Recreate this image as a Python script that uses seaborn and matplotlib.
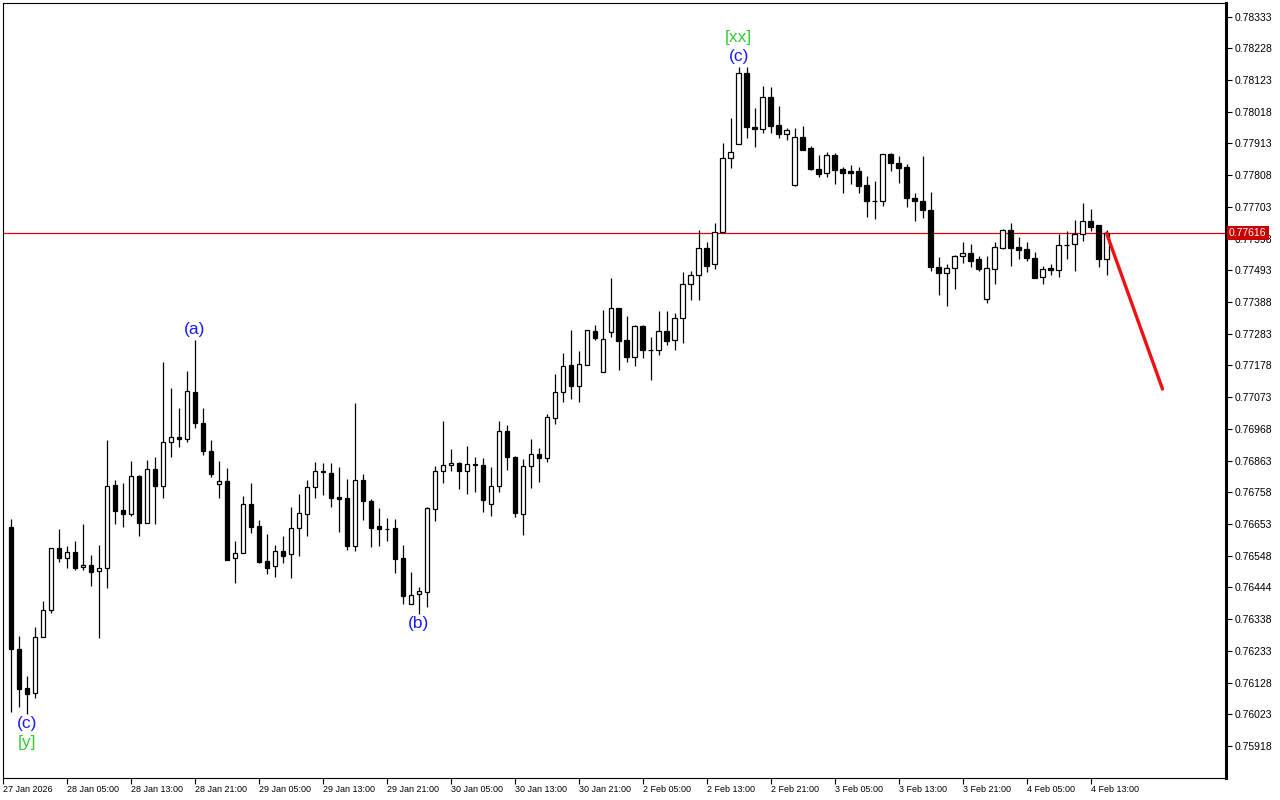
import numpy as np
import pandas as pd
import matplotlib
matplotlib.use("Agg")
import matplotlib.pyplot as plt
import seaborn as sns

# ---------------- data (hourly candles) ----------------
opens = [0.76643, 0.76240, 0.76110, 0.76094, 0.76279, 0.76369, 0.76574, 0.76541, 0.76561, 0.76511,
         0.76518, 0.76498, 0.76508, 0.76783, 0.76700, 0.76686, 0.76812, 0.76657, 0.76835, 0.76779,
         0.76925, 0.76941, 0.76935, 0.77090, 0.76988, 0.76895, 0.76786, 0.76796, 0.76541, 0.76557,
         0.76720, 0.76647, 0.76531, 0.76514, 0.76564, 0.76554, 0.76640, 0.76686, 0.76776, 0.76829,
         0.76822, 0.76742, 0.76739, 0.76581, 0.76799, 0.76730, 0.76647, 0.76637, 0.76640, 0.76541,
         0.76389, 0.76422, 0.76428, 0.76703, 0.76829, 0.76849, 0.76855, 0.76829, 0.76852, 0.76849,
         0.76720, 0.76779, 0.76961, 0.76875, 0.76686, 0.76845, 0.76885, 0.76872, 0.77005, 0.77090,
         0.77180, 0.77110, 0.77180, 0.77292, 0.77157, 0.77289, 0.77369, 0.77263, 0.77206, 0.77309,
         0.77229, 0.77229, 0.77292, 0.77263, 0.77335, 0.77448, 0.77478, 0.77567, 0.77514, 0.77620,
         0.77865, 0.77912, 0.78147, 0.77968, 0.77961, 0.78067, 0.77974, 0.77945, 0.77776, 0.77935,
         0.77898, 0.77829, 0.77816, 0.77875, 0.77829, 0.77822, 0.77822, 0.77776, 0.77723, 0.77723,
         0.77878, 0.77849, 0.77835, 0.77733, 0.77723, 0.77693, 0.77504, 0.77484, 0.77501, 0.77541,
         0.77551, 0.77531, 0.77398, 0.77498, 0.77567, 0.77627, 0.77571, 0.77564, 0.77534, 0.77471,
         0.77501, 0.77494, 0.77577, 0.77580, 0.77614, 0.77657, 0.77643, 0.77531]
highs = [0.76670, 0.76283, 0.76150, 0.76312, 0.76398, 0.76574, 0.76637, 0.76581, 0.76597, 0.76653,
         0.76551, 0.76584, 0.76932, 0.76799, 0.76789, 0.76862, 0.76816, 0.76865, 0.76875, 0.77190,
         0.77104, 0.77037, 0.77160, 0.77263, 0.77037, 0.76932, 0.76862, 0.76839, 0.76597, 0.76746,
         0.76789, 0.76667, 0.76620, 0.76584, 0.76614, 0.76710, 0.76753, 0.76799, 0.76859, 0.76855,
         0.76855, 0.76842, 0.76802, 0.77054, 0.76819, 0.76736, 0.76706, 0.76673, 0.76670, 0.76584,
         0.76494, 0.76445, 0.76710, 0.76845, 0.76994, 0.76902, 0.76859, 0.76912, 0.76875, 0.76872,
         0.76842, 0.76994, 0.76981, 0.76878, 0.76869, 0.76935, 0.76905, 0.77018, 0.77150, 0.77220,
         0.77296, 0.77226, 0.77296, 0.77312, 0.77362, 0.77468, 0.77369, 0.77342, 0.77312, 0.77312,
         0.77272, 0.77359, 0.77359, 0.77352, 0.77488, 0.77491, 0.77627, 0.77587, 0.77650, 0.77915,
         0.77998, 0.78167, 0.78167, 0.78031, 0.78104, 0.78100, 0.78037, 0.77965, 0.77965, 0.77971,
         0.77905, 0.77875, 0.77885, 0.77882, 0.77835, 0.77842, 0.77835, 0.77806, 0.77789, 0.77878,
         0.77882, 0.77872, 0.77845, 0.77749, 0.77872, 0.77753, 0.77537, 0.77514, 0.77544, 0.77587,
         0.77580, 0.77541, 0.77541, 0.77587, 0.77630, 0.77650, 0.77604, 0.77587, 0.77554, 0.77508,
         0.77514, 0.77614, 0.77624, 0.77660, 0.77716, 0.77696, 0.77643, 0.77627]
lows = [0.76031, 0.76047, 0.76024, 0.76077, 0.76279, 0.76359, 0.76528, 0.76508, 0.76501, 0.76501,
        0.76448, 0.76276, 0.76441, 0.76653, 0.76643, 0.76680, 0.76614, 0.76655, 0.76653, 0.76739,
        0.76875, 0.76908, 0.76925, 0.76971, 0.76882, 0.76809, 0.76739, 0.76534, 0.76458, 0.76557,
        0.76624, 0.76524, 0.76488, 0.76478, 0.76524, 0.76474, 0.76547, 0.76614, 0.76739, 0.76749,
        0.76710, 0.76627, 0.76567, 0.76564, 0.76667, 0.76577, 0.76581, 0.76597, 0.76491, 0.76389,
        0.76389, 0.76355, 0.76379, 0.76663, 0.76789, 0.76829, 0.76769, 0.76753, 0.76759, 0.76693,
        0.76680, 0.76759, 0.76832, 0.76677, 0.76617, 0.76772, 0.76792, 0.76859, 0.76984, 0.77057,
        0.77067, 0.77057, 0.77180, 0.77263, 0.77157, 0.77272, 0.77163, 0.77190, 0.77177, 0.77203,
        0.77130, 0.77213, 0.77246, 0.77229, 0.77253, 0.77395, 0.77395, 0.77488, 0.77498, 0.77620,
        0.77832, 0.77912, 0.77931, 0.77902, 0.77948, 0.77948, 0.77931, 0.77925, 0.77772, 0.77892,
        0.77825, 0.77802, 0.77802, 0.77779, 0.77749, 0.77779, 0.77749, 0.77670, 0.77663, 0.77706,
        0.77822, 0.77782, 0.77703, 0.77657, 0.77667, 0.77491, 0.77412, 0.77375, 0.77431, 0.77517,
        0.77504, 0.77491, 0.77385, 0.77448, 0.77564, 0.77508, 0.77531, 0.77524, 0.77468, 0.77448,
        0.77478, 0.77471, 0.77531, 0.77491, 0.77590, 0.77624, 0.77504, 0.77478]
closes = [0.76240, 0.76107, 0.76091, 0.76279, 0.76369, 0.76574, 0.76541, 0.76561, 0.76508, 0.76518,
          0.76494, 0.76508, 0.76779, 0.76696, 0.76686, 0.76812, 0.76657, 0.76835, 0.76779, 0.76925,
          0.76941, 0.76935, 0.77094, 0.76988, 0.76895, 0.76819, 0.76796, 0.76534, 0.76557, 0.76720,
          0.76643, 0.76528, 0.76508, 0.76564, 0.76547, 0.76640, 0.76690, 0.76776, 0.76829, 0.76826,
          0.76739, 0.76736, 0.76581, 0.76799, 0.76730, 0.76640, 0.76637, 0.76637, 0.76538, 0.76415,
          0.76418, 0.76432, 0.76706, 0.76829, 0.76849, 0.76855, 0.76829, 0.76852, 0.76849, 0.76733,
          0.76779, 0.76961, 0.76875, 0.76690, 0.76845, 0.76885, 0.76872, 0.77008, 0.77090, 0.77177,
          0.77110, 0.77183, 0.77296, 0.77269, 0.77266, 0.77369, 0.77259, 0.77206, 0.77309, 0.77229,
          0.77229, 0.77292, 0.77259, 0.77335, 0.77448, 0.77478, 0.77567, 0.77508, 0.77620, 0.77865,
          0.77885, 0.78147, 0.77968, 0.77961, 0.78067, 0.77971, 0.77945, 0.77958, 0.77935, 0.77892,
          0.77829, 0.77812, 0.77875, 0.77825, 0.77816, 0.77816, 0.77772, 0.77723, 0.77723, 0.77878,
          0.77849, 0.77832, 0.77733, 0.77723, 0.77693, 0.77504, 0.77484, 0.77501, 0.77541, 0.77551,
          0.77524, 0.77498, 0.77501, 0.77571, 0.77627, 0.77567, 0.77561, 0.77534, 0.77468, 0.77498,
          0.77494, 0.77577, 0.77578, 0.77614, 0.77657, 0.77637, 0.77531, 0.77616]

time_labels = ["27 Jan 2026", "28 Jan 05:00", "28 Jan 13:00", "28 Jan 21:00", "29 Jan 05:00",
               "29 Jan 13:00", "29 Jan 21:00", "30 Jan 05:00", "30 Jan 13:00", "30 Jan 21:00",
               "2 Feb 05:00", "2 Feb 13:00", "2 Feb 21:00", "3 Feb 05:00", "3 Feb 13:00",
               "3 Feb 21:00", "4 Feb 05:00", "4 Feb 13:00"]
price_ticks = [0.78333, 0.78228, 0.78123, 0.78018, 0.77913, 0.77808, 0.77703, 0.77598,
               0.77493, 0.77388, 0.77283, 0.77178, 0.77073, 0.76968, 0.76863, 0.76758,
               0.76653, 0.76548, 0.76444, 0.76338, 0.76233, 0.76128, 0.76023, 0.75918]
current_price = 0.77616
forecast_bars = [137, 144]
forecast_prices = [0.77616, 0.77100]

# wave labels: (bar index, text, colour, side, pixel offset from wick)
wave_bars = [2, 2, 23, 51, 91, 91]
wave_texts = ["(c)", "[y]", "(a)", "(b)", "(c)", "[xx]"]
wave_colors = ["#1a1aff", "#33cc33", "#1a1aff", "#1a1aff", "#1a1aff", "#33cc33"]
wave_sides = ["low", "low", "high", "low", "high", "high"]
wave_offsets = [-10, -29, 10, -10, 10, 29]

# ---------------- figure ----------------
sns.set_theme(style="white")
plt.rcParams['font.family'] = ['Liberation Sans', 'DejaVu Sans']

W, H = 1280, 800
fig = plt.figure(figsize=(W / 100, H / 100), dpi=100)
fig.patch.set_facecolor("white")
ax = fig.add_axes([3 / W, 22 / H, 1223 / W, 775 / H])
ax.set_facecolor("white")

df = pd.DataFrame({"o": opens, "h": highs, "l": lows, "c": closes})
df["x"] = np.arange(len(df))
df["bottom"] = df[["o", "c"]].min(axis=1)
df["height"] = (df["c"] - df["o"]).abs().clip(lower=0.000004)
df["bull"] = df["c"] >= df["o"]

# horizontal current price line
ax.axhline(current_price, color="#e00000", lw=0.9, zorder=1)

# wicks
ax.vlines(df["x"], df["l"], df["h"], color="black", lw=0.9, zorder=2)
# bodies
bw = 0.56
b = df[df["bull"]]
s = df[~df["bull"]]
ax.bar(b["x"], b["height"], bottom=b["bottom"], width=bw, color="white",
       edgecolor="black", linewidth=0.9, zorder=3)
ax.bar(s["x"], s["height"], bottom=s["bottom"], width=bw, color="black",
       edgecolor="black", linewidth=0.9, zorder=3)

# forecast line
sns.lineplot(x=forecast_bars, y=forecast_prices, color="#ee1111", lw=2.4, ax=ax, zorder=4)

# wave labels
for bar, txt, col, side, off in zip(wave_bars, wave_texts, wave_colors, wave_sides, wave_offsets):
    yref = df.loc[bar, "h"] if side == "high" else df.loc[bar, "l"]
    ax.annotate(txt, xy=(bar, yref), xytext=(0, off), textcoords="offset pixels",
                ha="center", va="center", color=col, fontsize=12.5, zorder=5)

# axes limits
ax.set_xlim(-0.94, 151.94)
ax.set_ylim(0.75812, 0.78378)

# y axis on the right
ax.yaxis.tick_right()
ax.set_yticks(price_ticks)
ax.set_yticklabels([f"{v:.5f}" for v in price_ticks])
ax.tick_params(axis="y", direction="out", length=4, width=0.8, colors="black",
               labelsize=7.5, pad=2, right=True, left=False)

# x axis
xt = np.arange(-1, -1 + 8 * len(time_labels), 8)
ax.set_xticks(xt)
ax.set_xticklabels(time_labels, ha="left")
ax.tick_params(axis="x", direction="out", length=4, width=0.8, colors="black",
               labelsize=6.5, pad=1, bottom=True)
for lab in ax.get_xticklabels():
    lab.set_x(lab.get_position()[0])

for name, sp in ax.spines.items():
    sp.set_visible(True)
    sp.set_color("black")
    sp.set_linewidth(0.8)
ax.spines["right"].set_linewidth(2.2)

# current price tag
ax.annotate(f"{current_price:.5f}", xy=(1, current_price), xycoords=("axes fraction", "data"),
            xytext=(3, 0), textcoords="offset pixels", ha="left", va="center",
            color="white", fontsize=7.5, zorder=6,
            bbox=dict(boxstyle="square,pad=0.2", fc="#c80000", ec="none"))

fig.savefig("out.png", dpi=100, facecolor="white")
